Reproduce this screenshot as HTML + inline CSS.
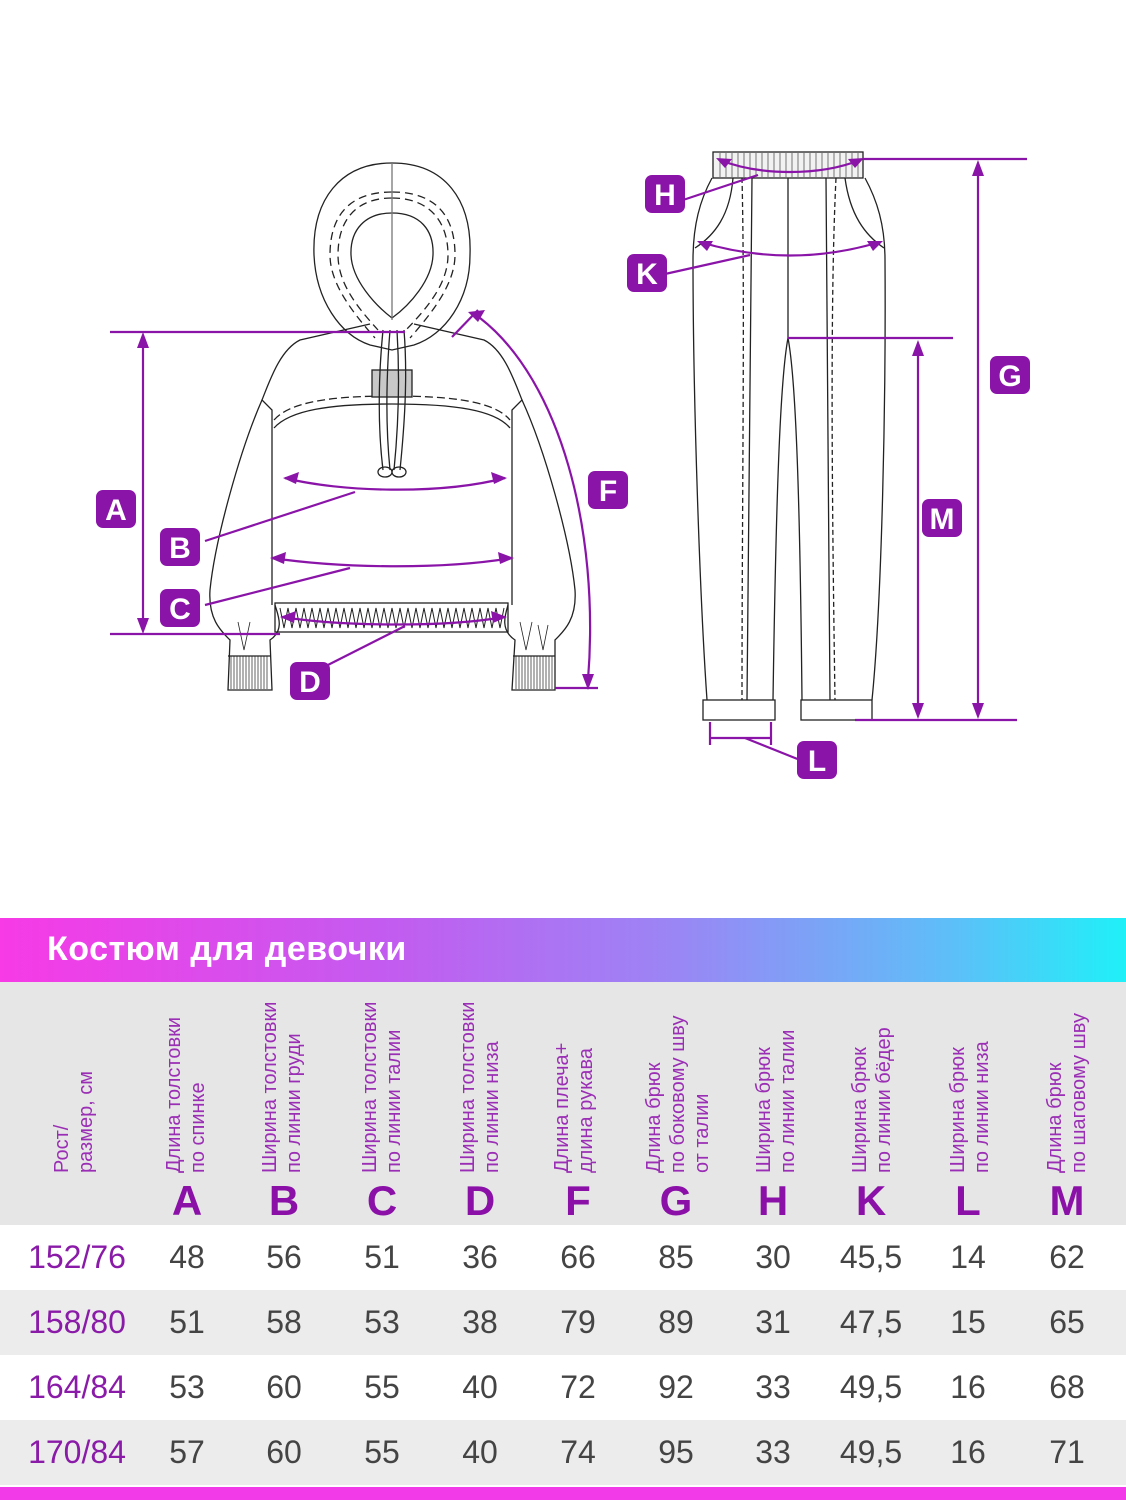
<!DOCTYPE html>
<html><head><meta charset="utf-8"><style>
body{margin:0;width:1126px;height:1500px;background:#fff;position:relative;overflow:hidden;font-family:"Liberation Sans","DejaVu Sans",sans-serif}
.band{position:absolute;left:0;top:918px;width:1126px;height:64px;background:linear-gradient(90deg,#f73ae6 0%,#c25cf0 35%,#9a86f5 60%,#5cc0f8 85%,#1ff0f8 100%)}
.band span{position:absolute;left:47px;top:12px;color:#fff;font-weight:bold;font-size:34px;letter-spacing:0.5px}
.head{position:absolute;left:0;top:982px;width:1126px;height:243px;background:#e6e6e6}
.vt{position:absolute;bottom:52px;width:60px;height:200px}
.vt div{position:absolute;left:0;bottom:0;transform-origin:0 100%;transform:rotate(-90deg) translate(0,100%);white-space:nowrap;color:#9a2eb4;font-size:20px;line-height:24px;width:220px}
.let{position:absolute;top:195px;width:80px;text-align:center;color:#8a10a8;font-weight:bold;font-size:42px}
.row{position:absolute;left:0;width:1126px;height:65px}
.row span{position:absolute;top:14px;width:80px;text-align:center;font-size:32px;color:#444}
.row span.s{color:#8a1aa8;width:130px;left:12px}
.bot{position:absolute;left:0;top:1487px;width:1126px;height:13px;background:#f23ae8}
</style></head><body>
<svg width="1126" height="900" style="position:absolute;left:0;top:0">
<g fill="none" stroke="#222" stroke-width="1.3">
<path d="M392,163 C340,163 312,200 314,255 C316,300 340,335 370,345 L392,350 L414,345 C445,335 470,300 470,255 C472,200 445,163 392,163Z" fill="#fff"/>
<path d="M392,213 C365,213 350,230 351,255 C352,280 375,305 392,318 C410,305 432,280 433,255 C434,230 420,213 392,213Z"/>
<path d="M392,192 C350,192 330,215 330,255 C330,285 355,315 375,338 M392,192 C435,192 455,215 455,255 C455,285 430,315 410,338" stroke-dasharray="8,5"/>
<path d="M392,198 C356,198 338,220 338,255 C338,285 360,310 378,330 M392,198 C428,198 448,220 448,255 C448,285 425,310 406,330" stroke-dasharray="8,5"/>
<line x1="392" y1="163" x2="392" y2="320" stroke="#777"/>
<path d="M370,324 L300,340 C280,350 270,380 262,400 L272,410 L272,605 M414,324 L484,340 C504,350 514,380 522,400 L512,410 L512,605"/>
<path d="M262,400 C240,450 215,540 210,590 C208,620 222,632 230,640 L228,690 L272,690 L270,640 C285,630 278,615 275,605"/>
<path d="M522,400 C545,450 570,540 575,590 C577,620 563,632 555,640 L555,690 L512,690 L515,640 C500,630 505,615 508,605"/>
<rect x="275" y="603" width="233" height="29"/>
<path d="M280,608 l4,20 l4,-20 l4,20 l4,-20 l4,20 l4,-20 l4,20 l4,-20 l4,20 l4,-20 l4,20 l4,-20 l4,20 l4,-20 l4,20 l4,-20 l4,20 l4,-20 l4,20 l4,-20 l4,20 l4,-20 l4,20 l4,-20 l4,20 l4,-20 l4,20 l4,-20 l4,20 l4,-20 l4,20 l4,-20 l4,20 l4,-20 l4,20 l4,-20 l4,20 l4,-20 l4,20 l4,-20 l4,20 l4,-20 l4,20 l4,-20 l4,20 l4,-20 l4,20 l4,-20 l4,20 l4,-20 l4,20 l4,-20 l4,20 l4,-20 l4,20 l4,-20" stroke-width="1"/>
<path d="M274,428 C290,410 330,404 392,404 C455,404 495,410 510,428"/>
<path d="M274,420 C290,402 330,396 392,396 C455,396 495,402 510,420" stroke-dasharray="8,4"/>
<rect x="372" y="370" width="40" height="27" fill="#c8c8c8"/>
<path d="M383,330 C378,380 378,430 383,470 M390,330 C386,380 386,430 390,470 M397,330 C400,380 398,430 394,470 M404,330 C408,380 404,430 400,470"/>
<ellipse cx="385" cy="472" rx="7" ry="5"/><ellipse cx="399" cy="472" rx="7" ry="5"/>
<path d="M231,656 v33 M234,656 v33 M237,656 v33 M240,656 v33 M243,656 v33 M246,656 v33 M249,656 v33 M252,656 v33 M255,656 v33 M258,656 v33 M261,656 v33 M264,656 v33 M267,656 v33 M516,656 v33 M519,656 v33 M522,656 v33 M525,656 v33 M528,656 v33 M531,656 v33 M534,656 v33 M537,656 v33 M540,656 v33 M543,656 v33 M546,656 v33 M549,656 v33 M552,656 v33" stroke-width="0.7"/>
<line x1="228" y1="656" x2="271" y2="656"/><line x1="513" y1="656" x2="555" y2="656"/>
<path d="M238,622 l6,28 l6,-28 M520,622 l6,28 l6,-28 M538,625 l5,25 l5,-25" stroke-width="0.8"/>
<rect x="713" y="152" width="150" height="26" fill="#f2f2f2"/>
<path d="M720,153 v24 M726,153 v24 M732,153 v24 M738,153 v24 M744,153 v24 M750,153 v24 M756,153 v24 M762,153 v24 M768,153 v24 M774,153 v24 M780,153 v24 M786,153 v24 M792,153 v24 M798,153 v24 M804,153 v24 M810,153 v24 M816,153 v24 M822,153 v24 M828,153 v24 M834,153 v24 M840,153 v24 M846,153 v24 M852,153 v24 M858,153 v24" stroke-width="0.6"/>
<path d="M712,178 C700,200 693,225 693,260 C693,400 700,600 707,700 M865,178 C877,200 885,225 885,260 C886,400 882,600 872,700"/>
<path d="M788,178 L788,338 C780,380 776,500 773,700 M788,338 C796,380 800,500 802,700"/>
<path d="M742,178 C745,300 742,500 742,700 M836,178 C830,300 832,500 835,700" stroke-dasharray="5,3"/>
<path d="M752,178 C752,300 748,500 747,700 M826,178 C826,300 828,500 830,700"/>
<path d="M733,178 C730,215 715,235 695,248 M845,178 C850,215 865,235 884,248"/>
<rect x="703" y="700" width="72" height="20"/><rect x="801" y="700" width="71" height="20"/>
</g>
<g stroke="#8a14a8" stroke-width="2.2" fill="none">
<line x1="110" y1="332" x2="405" y2="332"/><line x1="110" y1="634" x2="280" y2="634"/>
<line x1="143" y1="340" x2="143" y2="626"/>
<path d="M285,478 C340,492 440,495 505,478"/><line x1="205" y1="541" x2="355" y2="492"/>
<path d="M272,558 C340,568 440,570 512,558"/><line x1="205" y1="605" x2="350" y2="568"/>
<path d="M282,617 C340,626 440,628 505,617"/><line x1="318" y1="670" x2="405" y2="626"/>
<line x1="452" y1="337" x2="478" y2="310"/>
<path d="M480,318 C560,380 600,530 588,680"/>
<line x1="555" y1="688" x2="598" y2="688"/>
<line x1="863" y1="159" x2="1027" y2="159"/><line x1="855" y1="720" x2="1017" y2="720"/>
<line x1="788" y1="338" x2="953" y2="338"/>
<line x1="978" y1="168" x2="978" y2="710"/><line x1="918" y1="348" x2="918" y2="710"/>
<path d="M720,160 C760,176 820,176 860,160"/><line x1="683" y1="200" x2="758" y2="175"/>
<path d="M700,242 C760,260 820,260 880,242"/><line x1="665" y1="274" x2="750" y2="255"/>
<line x1="710" y1="722" x2="710" y2="745"/><line x1="771" y1="722" x2="771" y2="745"/>
<line x1="710" y1="738" x2="771" y2="738"/><line x1="745" y1="738" x2="800" y2="760"/>
</g>
<g fill="#8a14a8">
<path d="M143,332 l-6,16 h12z M143,634 l-6,-16 h12z"/>
<path d="M283,478 l16,-6 l-3,12z M507,478 l-16,-6 l3,12z"/>
<path d="M270,558 l16,-6 l-2,12z M514,558 l-16,-6 l2,12z"/>
<path d="M280,617 l16,-6 l-2,12z M507,617 l-16,-6 l2,12z"/>
<path d="M468,312 l17,-2 l-7,12z M588,690 l-6,-16 h12z"/>
<path d="M978,160 l-6,16 h12z M978,719 l-6,-16 h12z M918,340 l-6,16 h12z M918,719 l-6,-16 h12z"/>
<path d="M716,158 l16,1 l-7,9z M864,158 l-16,1 l7,9z M697,241 l16,0 l-6,10z M883,241 l-16,0 l6,10z"/>
</g>
<g font-family="Liberation Sans,sans-serif" font-weight="bold" font-size="30" fill="#fff" text-anchor="middle">
<rect x="96" y="490" width="40" height="38" rx="7" fill="#8a14a8"/><text x="116" y="520">A</text>
<rect x="160" y="528" width="40" height="38" rx="7" fill="#8a14a8"/><text x="180" y="558">B</text>
<rect x="160" y="589" width="40" height="38" rx="7" fill="#8a14a8"/><text x="180" y="619">C</text>
<rect x="290" y="662" width="40" height="38" rx="7" fill="#8a14a8"/><text x="310" y="692">D</text>
<rect x="588" y="471" width="40" height="38" rx="7" fill="#8a14a8"/><text x="608" y="501">F</text>
<rect x="990" y="356" width="40" height="38" rx="7" fill="#8a14a8"/><text x="1010" y="386">G</text>
<rect x="922" y="499" width="40" height="38" rx="7" fill="#8a14a8"/><text x="942" y="529">M</text>
<rect x="645" y="175" width="40" height="38" rx="7" fill="#8a14a8"/><text x="665" y="205">H</text>
<rect x="627" y="254" width="40" height="38" rx="7" fill="#8a14a8"/><text x="647" y="284">K</text>
<rect x="797" y="741" width="40" height="38" rx="7" fill="#8a14a8"/><text x="817" y="771">L</text>
</g>
</svg>
<div class="band"><span>Костюм для девочки</span></div>
<div class="head">
<div class="vt" style="left:50px"><div>Рост/<br>размер, см</div></div>
<div class="vt" style="left:162px"><div>Длина толстовки<br>по спинке</div></div>
<div class="vt" style="left:258px"><div>Ширина толстовки<br>по линии груди</div></div>
<div class="vt" style="left:358px"><div>Ширина толстовки<br>по линии талии</div></div>
<div class="vt" style="left:456px"><div>Ширина толстовки<br>по линии низа</div></div>
<div class="vt" style="left:550px"><div>Длина плеча+<br>длина рукава</div></div>
<div class="vt" style="left:642px"><div>Длина брюк<br>по боковому шву<br>от талии</div></div>
<div class="vt" style="left:752px"><div>Ширина брюк<br>по линии талии</div></div>
<div class="vt" style="left:848px"><div>Ширина брюк<br>по линии бёдер</div></div>
<div class="vt" style="left:946px"><div>Ширина брюк<br>по линии низа</div></div>
<div class="vt" style="left:1043px"><div>Длина брюк<br>по шаговому шву</div></div>
<div class="let" style="left:147px">A</div><div class="let" style="left:244px">B</div><div class="let" style="left:342px">C</div><div class="let" style="left:440px">D</div><div class="let" style="left:538px">F</div><div class="let" style="left:636px">G</div><div class="let" style="left:733px">H</div><div class="let" style="left:831px">K</div><div class="let" style="left:928px">L</div><div class="let" style="left:1027px">M</div>
</div>
<div class="row" style="top:1225px;background:#fff"><span class="s">152/76</span><span style="left:147px">48</span><span style="left:244px">56</span><span style="left:342px">51</span><span style="left:440px">36</span><span style="left:538px">66</span><span style="left:636px">85</span><span style="left:733px">30</span><span style="left:831px">45,5</span><span style="left:928px">14</span><span style="left:1027px">62</span></div>
<div class="row" style="top:1290px;background:#ececec"><span class="s">158/80</span><span style="left:147px">51</span><span style="left:244px">58</span><span style="left:342px">53</span><span style="left:440px">38</span><span style="left:538px">79</span><span style="left:636px">89</span><span style="left:733px">31</span><span style="left:831px">47,5</span><span style="left:928px">15</span><span style="left:1027px">65</span></div>
<div class="row" style="top:1355px;background:#fff"><span class="s">164/84</span><span style="left:147px">53</span><span style="left:244px">60</span><span style="left:342px">55</span><span style="left:440px">40</span><span style="left:538px">72</span><span style="left:636px">92</span><span style="left:733px">33</span><span style="left:831px">49,5</span><span style="left:928px">16</span><span style="left:1027px">68</span></div>
<div class="row" style="top:1420px;background:#ececec"><span class="s">170/84</span><span style="left:147px">57</span><span style="left:244px">60</span><span style="left:342px">55</span><span style="left:440px">40</span><span style="left:538px">74</span><span style="left:636px">95</span><span style="left:733px">33</span><span style="left:831px">49,5</span><span style="left:928px">16</span><span style="left:1027px">71</span></div>
<div class="bot"></div>
</body></html>
